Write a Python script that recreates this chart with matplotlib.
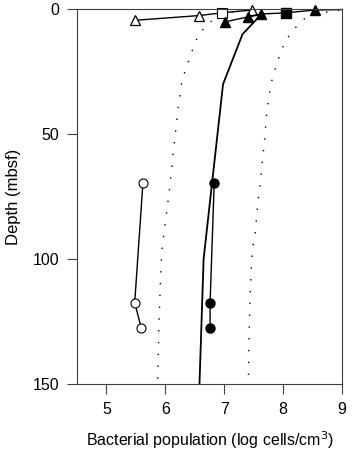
import matplotlib
matplotlib.use("Agg")
import matplotlib.pyplot as plt

plt.rcParams['font.family'] = ['Liberation Sans', 'DejaVu Sans']

# Regression curve (solid)
curve_x = [7.63, 7.31, 6.98, 6.65, 6.58]
curve_depth = [2.0, 10, 30, 100, 150]

# Prediction limits (dotted)
lower_x = [7.15, 6.93, 6.73, 6.56, 6.48, 6.41, 6.34, 6.28, 6.22, 6.17, 6.11, 6.07, 6.02, 5.94, 5.92, 5.89, 5.87]
lower_depth = [1.0, 2.3, 5.6, 10.3, 15, 19.7, 24.3, 29, 39, 49.7, 63, 72.5, 81.8, 96.6, 107, 127, 150]
upper_x = [8.95, 8.76, 8.37, 8.17, 8.03, 7.95, 7.89, 7.82, 7.78, 7.75, 7.72, 7.69, 7.64, 7.61, 7.57, 7.53, 7.49, 7.47, 7.44, 7.42, 7.41]
upper_depth = [0.3, 1.0, 3.6, 8.3, 13, 17.7, 22.3, 27.3, 32, 36.4, 41.7, 51, 63, 70.5, 77.5, 89, 94.5, 99, 114, 132.7, 150]

# Open circles
oc_x = [5.62, 5.48, 5.59]
oc_depth = [69.4, 117.5, 127.6]
# Filled circles
fc_x = [6.83, 6.76, 6.76]
fc_depth = [69.4, 117.5, 127.6]

# Open triangles / open square (near surface)
ot_x = [5.49, 6.58, 7.47]
ot_depth = [4.4, 2.5, 0.3]
os_x = [6.96]
os_depth = [1.4]
open_line_x = [5.49, 6.58, 6.96, 7.47]
open_line_depth = [4.4, 2.5, 1.4, 0.3]

# Filled triangles / filled square (near surface)
ft_x = [7.02, 7.40, 7.63, 8.54]
ft_depth = [5.0, 3.0, 1.9, 0.3]
fs_x = [8.05]
fs_depth = [1.4]
filled_line_x = [7.02, 7.63, 8.05, 8.54, 9.0]
filled_line_depth = [5.0, 1.9, 1.4, 0.3, 0.1]
filled_line2_x = [7.40, 7.63]
filled_line2_depth = [3.0, 1.9]

fig = plt.figure(figsize=(3.56, 4.58), dpi=100)
ax = fig.add_axes([0.2163, 0.1622, 0.7444, 0.8175])

ax.plot(lower_x, lower_depth, linestyle=(0, (1, 7.5)), color='black', lw=1.0)
ax.plot(upper_x, upper_depth, linestyle=(0, (1, 7.5)), color='black', lw=1.0)
ax.plot(curve_x, curve_depth, color='black', lw=1.3)

ax.plot(oc_x, oc_depth, color='black', lw=1.0, marker='o', ms=6.5,
        mfc='white', mec='black', mew=0.8, clip_on=False)
ax.plot(fc_x, fc_depth, color='black', lw=1.0, marker='o', ms=6.5,
        mfc='black', mec='black', clip_on=False)

ax.plot(open_line_x, open_line_depth, color='black', lw=1.0, clip_on=False)
ax.plot(ot_x, ot_depth, ls='none', marker='^', ms=7.5, mfc='white', mec='black',
        mew=0.9, clip_on=False)
ax.plot(os_x, os_depth, ls='none', marker='s', ms=6.5, mfc='white', mec='black',
        mew=0.8, clip_on=False)

ax.plot(filled_line_x, filled_line_depth, color='black', lw=1.0, clip_on=False)
ax.plot(filled_line2_x, filled_line2_depth, color='black', lw=1.0, clip_on=False)
ax.plot(ft_x, ft_depth, ls='none', marker='^', ms=7.5, mfc='black', mec='black',
        clip_on=False)
ax.plot(fs_x, fs_depth, ls='none', marker='s', ms=6.5, mfc='black', mec='black',
        clip_on=False)

ax.set_xlim(4.5, 9.0)
ax.set_ylim(150, 0)
ax.set_xticks([5, 6, 7, 8, 9])
ax.set_yticks([0, 50, 100, 150])
ax.tick_params(direction='out', length=7, width=0.8, color='#404040',
               labelsize=11.5, top=False, right=False)
ax.tick_params(axis='y', pad=6)
ax.tick_params(axis='x', pad=6)
for s in ax.spines.values():
    s.set_color('#404040')
    s.set_linewidth(0.8)

ax.set_xlabel('Bacterial population (log cells/cm$^3$)', fontsize=11.5, labelpad=9)
ax.set_ylabel('Depth (mbsf)', fontsize=12, labelpad=8)

fig.savefig('out.png', dpi=100)
